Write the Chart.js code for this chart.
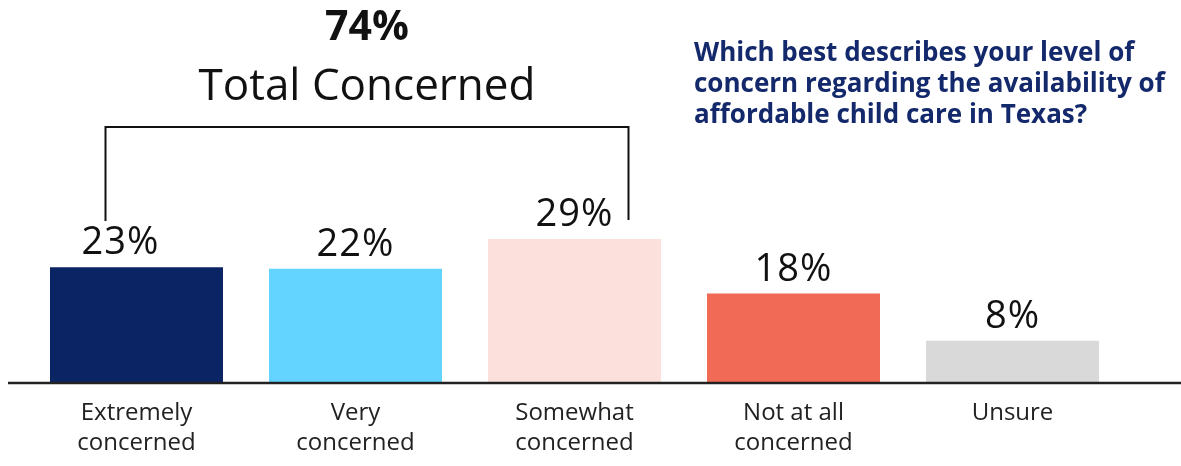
<!DOCTYPE html>
<html>
<head>
<meta charset="utf-8">
<script src="https://cdn.jsdelivr.net/npm/chart.js@4.4.0/dist/chart.umd.min.js"></script>
<style>
  body { margin: 0; background: #fff; font-family: 'Open Sans', sans-serif; }
  #wrap { position: relative; width: 1181px; height: 466px; }
  .title { position: absolute; left: 167px; width: 400px; text-align: center; color: #111; white-space: nowrap; }
  #pct { top: -1px; font-size: 41px; font-weight: 700; line-height: 50px; }
  #lbl { top: 53px; font-size: 44px; font-weight: 400; line-height: 60px; }
  #question { position: absolute; left: 694px; top: 36px; width: 487px; color: #13296b;
              font-size: 26px; font-weight: 700; line-height: 31px; white-space: nowrap; }
  canvas { position: absolute; left: 0; top: 0; }
</style>
</head>
<body>
<div id="wrap">
  <canvas id="myChart" width="1181" height="466"></canvas>
  <div class="title" id="pct">74%</div>
  <div class="title" id="lbl">Total Concerned</div>
  <div id="question">Which best describes your level of<br>concern regarding the availability of<br>affordable child care in Texas?</div>
</div>
<script>
const categories = [
    ['Extremely', 'concerned'],
    ['Very', 'concerned'],
    ['Somewhat', 'concerned'],
    ['Not at all', 'concerned'],
    ['Unsure']
];
// printed percentages
const pctLabels = [23, 22, 29, 18, 8];
// bar heights as drawn in the picture (unrounded shares)
const values = [23.3, 23.0, 29.0, 18.0, 8.5];
const barColors = ['#0b2463', '#62d4ff', '#fce0dc', '#f16a56', '#d9d9d9'];
// bracket spans the first three bars (the "concerned" answers)
const bracketFrom = 0;
const bracketTo = 2;
// first label is nudged left so the bracket line clears it
const labelNudge = [-16, 0, 0, 0, 0];

// value labels above bars
const valueLabels = {
    id: 'valueLabels',
    afterDatasetsDraw(chart) {
        const ctx = chart.ctx;
        const meta = chart.getDatasetMeta(0);
        ctx.save();
        ctx.font = '400 38px "Open Sans"';
        ctx.letterSpacing = '1px';
        ctx.fillStyle = '#111';
        ctx.textAlign = 'center';
        ctx.textBaseline = 'alphabetic';
        meta.data.forEach((bar, i) => {
            ctx.fillText(pctLabels[i] + '%', bar.x + labelNudge[i], bar.y - 13);
        });
        ctx.restore();
    }
};

// long baseline + bracket over the concerned bars
const extras = {
    id: 'extras',
    afterDraw(chart) {
        const ctx = chart.ctx;
        const y0 = chart.scales.y.getPixelForValue(0);
        const meta = chart.getDatasetMeta(0);
        ctx.save();
        ctx.strokeStyle = '#222';
        ctx.lineWidth = 2.5;
        ctx.beginPath();
        ctx.moveTo(8, y0);
        ctx.lineTo(chart.width, y0);
        ctx.stroke();

        const b1 = meta.data[bracketFrom];
        const b3 = meta.data[bracketTo];
        const left = b1.x - 31;
        const right = b3.x + 54;
        const top = 127;
        ctx.strokeStyle = '#111';
        ctx.lineWidth = 2;
        ctx.beginPath();
        ctx.moveTo(left, 221);
        ctx.lineTo(left, top);
        ctx.lineTo(right, top);
        ctx.lineTo(right, 220);
        ctx.stroke();
        ctx.restore();
    }
};

const ctx = document.getElementById('myChart').getContext('2d');
const myChart = new Chart(ctx, {
    type: 'bar',
    data: {
        labels: categories,
        datasets: [{
            data: values,
            backgroundColor: barColors,
            borderWidth: 0,
            barPercentage: 0.79,
            categoryPercentage: 1
        }]
    },
    options: {
        responsive: false,
        animation: false,
        layout: { padding: { left: 27, right: 59, top: 85, bottom: 0 } },
        plugins: { legend: { display: false }, tooltip: { enabled: false } },
        scales: {
            x: {
                grid: { display: false, drawTicks: false },
                border: { display: false },
                ticks: {
                    color: '#222',
                    padding: 15,
                    font: { family: 'Open Sans', size: 24, lineHeight: 1.25 }
                },
                afterFit(scale) { scale.height = 83; }
            },
            y: {
                display: false,
                min: 0,
                max: 60
            }
        }
    },
    plugins: [valueLabels, extras]
});
</script>
</body>
</html>
